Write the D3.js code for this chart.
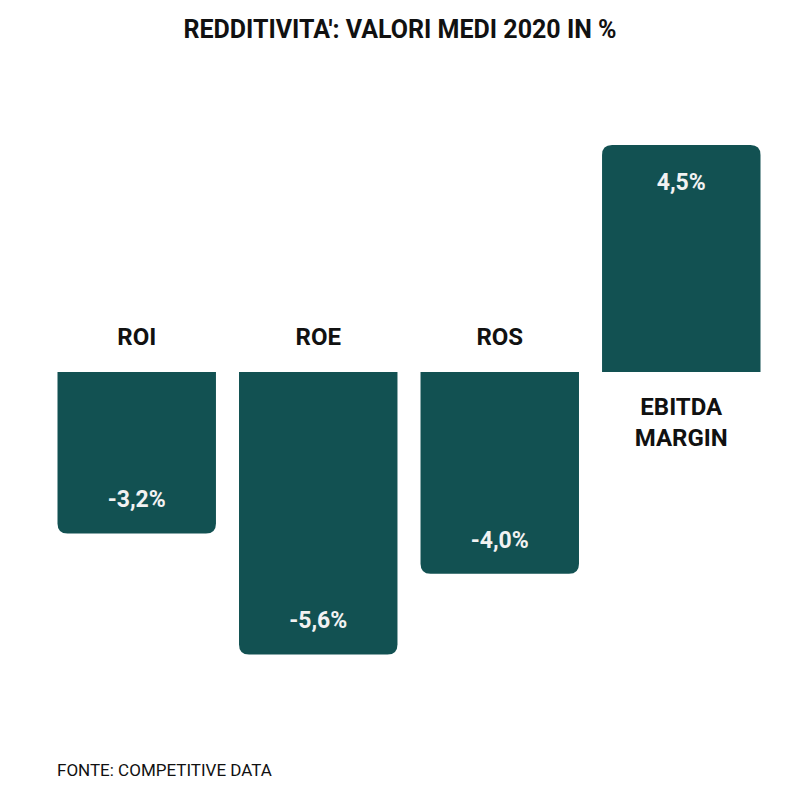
<!DOCTYPE html>
<html>
<head>
<meta charset="utf-8">
<script src="https://cdn.jsdelivr.net/npm/d3@7"></script>
<style>
  body { margin: 0; background: #fff; }
  svg { display: block; font-family: Roboto, "Noto Sans", sans-serif; }
  .title { font-size: 25px; font-weight: 700; fill: #111; }
  .cat { font-size: 24px; font-weight: 700; fill: #111; }
  .val { font-size: 23px; font-weight: 700; fill: #f2f2f2; }
  .source { font-size: 17px; fill: #111; }
</style>
</head>
<body>
<svg width="800" height="799"></svg>
<script>
// data
var categories = ["ROI", "ROE", "ROS", "EBITDA MARGIN"];
var values = [-3.2, -5.6, -4.0, 4.5];
var valueLabels = ["-3,2%", "-5,6%", "-4,0%", "4,5%"];

var svg = d3.select("svg"),
    barColor = "#125152",
    radius = 10;

var x = d3.scaleBand()
    .domain(categories)
    .range([57.5, 760.5])
    .paddingInner(0.127)
    .paddingOuter(0);

var y = d3.scaleLinear()
    .domain([0, 4.5])
    .range([372, 145]);

svg.append("text")
    .attr("class", "title")
    .attr("x", 400)
    .attr("y", 38)
    .attr("text-anchor", "middle")
    .text("REDDITIVITA': VALORI MEDI 2020 IN %");

// bar with rounded corners only on the far end
function barPath(d) {
  var x0 = x(d.cat), w = x.bandwidth(),
      y0 = y(0), y1 = y(d.value), r = radius;
  if (d.value < 0) {
    return "M" + x0 + "," + y0 +
      "H" + (x0 + w) +
      "V" + (y1 - r) +
      "Q" + (x0 + w) + "," + y1 + " " + (x0 + w - r) + "," + y1 +
      "H" + (x0 + r) +
      "Q" + x0 + "," + y1 + " " + x0 + "," + (y1 - r) + "Z";
  }
  return "M" + x0 + "," + y0 +
    "V" + (y1 + r) +
    "Q" + x0 + "," + y1 + " " + (x0 + r) + "," + y1 +
    "H" + (x0 + w - r) +
    "Q" + (x0 + w) + "," + y1 + " " + (x0 + w) + "," + (y1 + r) +
    "V" + y0 + "Z";
}

var data = categories.map(function(c, i) {
  return { cat: c, value: values[i], label: valueLabels[i] };
});

svg.selectAll(".bar")
    .data(data)
  .enter().append("path")
    .attr("class", "bar")
    .attr("fill", barColor)
    .attr("d", barPath);

// values inside the bars, near the far end
svg.selectAll(".val")
    .data(data)
  .enter().append("text")
    .attr("class", "val")
    .attr("text-anchor", "middle")
    .attr("x", function(d) { return x(d.cat) + x.bandwidth() / 2; })
    .attr("y", function(d) {
      return d.value < 0 ? y(d.value) - 26 : y(d.value) + 45;
    })
    .text(function(d) { return d.label; });

// category names on the other side of the baseline
var cats = svg.selectAll(".cat")
    .data(data)
  .enter().append("text")
    .attr("class", "cat")
    .attr("text-anchor", "middle")
    .attr("x", function(d) { return x(d.cat) + x.bandwidth() / 2; })
    .attr("y", function(d) { return d.value < 0 ? y(0) - 27 : y(0) + 43; });

cats.each(function(d) {
  var words = d.cat.split(" ");
  var t = d3.select(this);
  words.forEach(function(w, i) {
    t.append("tspan")
        .attr("x", x(d.cat) + x.bandwidth() / 2)
        .attr("dy", i === 0 ? 0 : 31)
        .text(w);
  });
});

svg.append("text")
    .attr("class", "source")
    .attr("x", 57)
    .attr("y", 776)
    .text("FONTE: COMPETITIVE DATA");
</script>
</body>
</html>
